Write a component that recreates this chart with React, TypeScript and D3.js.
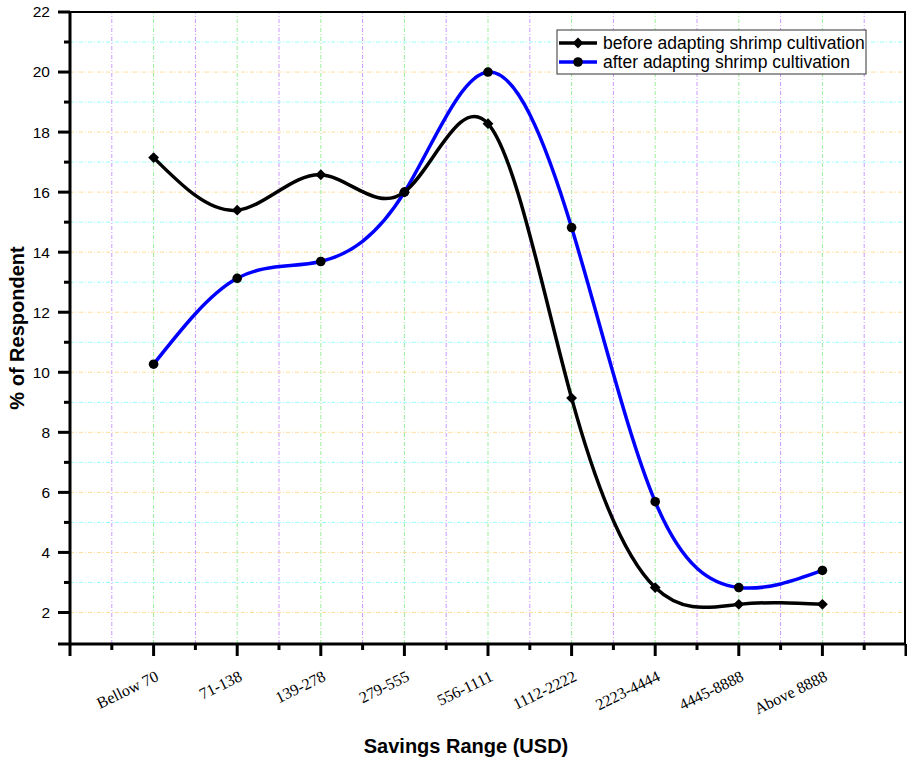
import React, { useEffect, useRef } from 'react';
import * as d3 from 'd3';

const categories = ['Bellow 70', '71-138', '139-278', '279-555', '556-1111', '1112-2222', '2223-4444', '4445-8888', 'Above 8888'];
const beforeValues = [17.15, 15.4, 16.58, 16.0, 18.28, 9.14, 2.83, 2.27, 2.27];
const afterValues = [10.27, 13.13, 13.69, 16.0, 20.0, 14.82, 5.69, 2.83, 3.4];
const yTicks = [2, 4, 6, 8, 10, 12, 14, 16, 18, 20, 22];
const seriesNames = ['before adapting shrimp cultivation', 'after adapting shrimp cultivation'];

const W = 907, H = 762;
const margin = { top: 12, right: 1, bottom: 118, left: 70 };

export default function App() {
  const ref = useRef<SVGSVGElement>(null);

  useEffect(() => {
    const svg = d3.select(ref.current);
    svg.selectAll('*').remove();

    const width = W - margin.left - margin.right;
    const height = H - margin.top - margin.bottom;

    const x = d3.scaleLinear().domain([0, categories.length + 1]).range([margin.left, margin.left + width]);
    const y = d3.scaleLinear().domain([0.95, 22]).range([margin.top + height, margin.top]);

    const g = svg.append('g');

    // grid
    const majX = d3.range(1, categories.length + 1);
    const minX = d3.range(0.5, categories.length + 1.5, 1);
    const minY = d3.range(3, 22, 2);
    const dash = '4,2,1,2';
    g.selectAll('.gxm').data(minX).enter().append('line')
      .attr('x1', d => x(d)).attr('x2', d => x(d))
      .attr('y1', y.range()[0]).attr('y2', y.range()[1])
      .attr('stroke', '#cc99ff').attr('stroke-width', 1).attr('stroke-dasharray', dash);
    g.selectAll('.gxM').data(majX).enter().append('line')
      .attr('x1', d => x(d)).attr('x2', d => x(d))
      .attr('y1', y.range()[0]).attr('y2', y.range()[1])
      .attr('stroke', '#99ee99').attr('stroke-width', 1).attr('stroke-dasharray', dash);
    g.selectAll('.gym').data(minY).enter().append('line')
      .attr('x1', x.range()[0]).attr('x2', x.range()[1])
      .attr('y1', d => y(d)).attr('y2', d => y(d))
      .attr('stroke', '#99ffff').attr('stroke-width', 1).attr('stroke-dasharray', dash);
    g.selectAll('.gyM').data(yTicks).enter().append('line')
      .attr('x1', x.range()[0]).attr('x2', x.range()[1])
      .attr('y1', d => y(d)).attr('y2', d => y(d))
      .attr('stroke', '#ffdd99').attr('stroke-width', 1).attr('stroke-dasharray', dash);

    // frame top & right
    g.append('line').attr('x1', x.range()[0]).attr('x2', x.range()[1]).attr('y1', y(22)).attr('y2', y(22))
      .attr('stroke', '#000').attr('stroke-width', 2);
    g.append('line').attr('x1', x.range()[1] - 1).attr('x2', x.range()[1] - 1).attr('y1', y.range()[0]).attr('y2', y.range()[1])
      .attr('stroke', '#000').attr('stroke-width', 2);

    // y axis
    g.append('line').attr('x1', x.range()[0]).attr('x2', x.range()[0]).attr('y1', y.range()[0] + 1.5).attr('y2', y.range()[1] - 1)
      .attr('stroke', '#000').attr('stroke-width', 3);
    g.selectAll('.ytM').data(yTicks).enter().append('line')
      .attr('x1', x.range()[0] - 12).attr('x2', x.range()[0])
      .attr('y1', d => y(d)).attr('y2', d => y(d)).attr('stroke', '#000').attr('stroke-width', 3);
    g.selectAll('.ytm').data(minY).enter().append('line')
      .attr('x1', x.range()[0] - 6).attr('x2', x.range()[0])
      .attr('y1', d => y(d)).attr('y2', d => y(d)).attr('stroke', '#000').attr('stroke-width', 3);
    g.selectAll('.ylab').data(yTicks).enter().append('text')
      .attr('x', x.range()[0] - 20).attr('y', d => y(d)).attr('dy', '0.35em')
      .attr('text-anchor', 'end').attr('font-family', 'Liberation Sans, Arial, sans-serif').attr('font-size', 15.5)
      .text(d => d);

    // x axis
    const xb = y.range()[0];
    g.append('line').attr('x1', x.range()[0] - 12).attr('x2', x.range()[1]).attr('y1', xb).attr('y2', xb)
      .attr('stroke', '#000').attr('stroke-width', 3);
    g.selectAll('.xtM').data(d3.range(0, categories.length + 2)).enter().append('line')
      .attr('x1', d => x(d)).attr('x2', d => x(d)).attr('y1', xb).attr('y2', xb + 12)
      .attr('stroke', '#000').attr('stroke-width', 3);
    g.selectAll('.xtm').data(minX).enter().append('line')
      .attr('x1', d => x(d)).attr('x2', d => x(d)).attr('y1', xb).attr('y2', xb + 6)
      .attr('stroke', '#000').attr('stroke-width', 3);
    g.selectAll('.xlab').data(categories).enter().append('text')
      .attr('transform', (d, i) => `translate(${x(i + 1) + 6},${xb + 36}) rotate(-26)`)
      .attr('text-anchor', 'end').attr('font-family', 'Liberation Serif, Times New Roman, serif').attr('font-size', 16)
      .text(d => d);

    // titles
    svg.append('text').attr('x', 466).attr('y', 753).attr('text-anchor', 'middle')
      .attr('font-family', 'Liberation Sans, Arial, sans-serif').attr('font-weight', 'bold').attr('font-size', 20)
      .text('Savings Range (USD)');
    svg.append('text').attr('transform', `translate(24,${(y.range()[0] + y.range()[1]) / 2}) rotate(-90)`)
      .attr('text-anchor', 'middle')
      .attr('font-family', 'Liberation Sans, Arial, sans-serif').attr('font-weight', 'bold').attr('font-size', 20)
      .text('% of Respondent');

    // lines
    const line = d3.line<number>().x((d, i) => x(i + 1)).y(d => y(d)).curve(d3.curveNatural);
    g.append('path').datum(afterValues).attr('d', line).attr('fill', 'none').attr('stroke', '#0000ff').attr('stroke-width', 3.5);
    g.append('path').datum(beforeValues).attr('d', line).attr('fill', 'none').attr('stroke', '#000').attr('stroke-width', 3.5);

    const diamond = d3.symbol().type(d3.symbolDiamond2).size(75);
    g.selectAll('.mb').data(beforeValues).enter().append('path')
      .attr('d', diamond).attr('transform', (d, i) => `translate(${x(i + 1)},${y(d)})`).attr('fill', '#000');
    g.selectAll('.ma').data(afterValues).enter().append('circle')
      .attr('cx', (d, i) => x(i + 1)).attr('cy', d => y(d)).attr('r', 4.8).attr('fill', '#000');

    // legend
    const lg = svg.append('g').attr('transform', 'translate(557,30)');
    lg.append('rect').attr('width', 309).attr('height', 44).attr('fill', '#fff').attr('stroke', '#333').attr('stroke-width', 1);
    const colors = ['#000', '#0000ff'];
    seriesNames.forEach((name, i) => {
      const ly = 13 + i * 19;
      lg.append('line').attr('x1', 2).attr('x2', 40).attr('y1', ly).attr('y2', ly).attr('stroke', colors[i]).attr('stroke-width', 3.5);
      if (i === 0) lg.append('path').attr('d', diamond).attr('transform', `translate(21,${ly})`).attr('fill', '#000');
      else lg.append('circle').attr('cx', 21).attr('cy', ly).attr('r', 4.8).attr('fill', '#000');
      lg.append('text').attr('x', 46).attr('y', ly).attr('dy', '0.35em')
        .attr('font-family', 'Liberation Sans, Arial, sans-serif').attr('font-size', 17.5).text(name);
    });
  }, []);

  return <svg ref={ref} width={W} height={H} style={{ position: 'absolute', left: 0, top: 0, background: '#fff' }} />;
}
